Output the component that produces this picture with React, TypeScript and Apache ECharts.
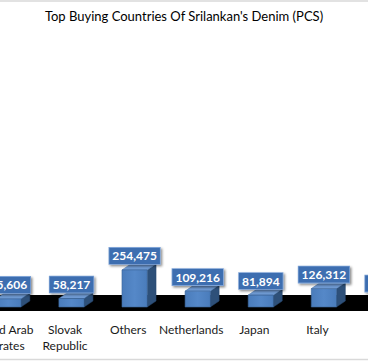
import React, { useEffect, useRef } from "react";
import * as echarts from "echarts";

const titleText = "Top Buying Countries Of Srilankan's Denim (PCS)";
const categories = [
  "United Arab Emirates",
  "Slovak Republic",
  "Others",
  "Netherlands",
  "Japan",
  "Italy",
  "UK",
];
const values = [55606, 58217, 254475, 109216, 81894, 126312, 64500];

const fmt = (v: number) => v.toLocaleString("en-US");
const wrapName = (v: string) => {
  if (v.length > 12) {
    const i = v.lastIndexOf(" ");
    return v.slice(0, i) + "\n" + v.slice(i + 1);
  }
  return v;
};

const OFFSET_X = 40;
const INNER_W = 458;

export default function App() {
  const ref = useRef<HTMLDivElement>(null);
  useEffect(() => {
    document.body.style.margin = "0";
    const chart = echarts.init(ref.current!, null, { renderer: "svg" });
    const data = categories.map((c, i) => [i, values[i]]);
    chart.setOption({
      animation: false,
      title: {
        text: titleText,
        left: "center",
        top: 7,
        textStyle: {
          fontFamily: "Lato",
          fontSize: 13,
          fontWeight: "normal",
          color: "#000",
        },
        show: false,
      },
      grid: { left: 10.35, right: 5.95, top: 205, bottom: 56 },
      xAxis: {
        type: "category",
        data: categories,
        offset: 6,
        axisLine: { lineStyle: { color: "#d9d9d9", width: 1 } },
        axisTick: { show: false },
        axisLabel: {
          interval: 0,
          margin: 8,
          fontFamily: "Lato",
          fontSize: 12,
          lineHeight: 16,
          color: "#1a1a1a",
          formatter: wrapName,
        },
      },
      yAxis: { type: "value", min: 0, max: 700000, show: false },
      series: [
        {
          type: "custom",
          z: 1,
          data,
          renderItem: (params: any, api: any) => {
            const p = api.coord([api.value(0), 0]);
            const bw = api.size([1, 0])[0];
            return {
              type: "rect",
              shape: { x: p[0] - bw / 2 - 0.5, y: p[1] - 12, width: bw + 1, height: 16 },
              style: { fill: "#000" },
            };
          },
        },
        {
          type: "custom",
          z: 2,
          data,
          renderItem: (params: any, api: any) => {
            const p0 = api.coord([api.value(0), 0]);
            const p1 = api.coord([api.value(0), api.value(1)]);
            const bw = api.size([1, 0])[0];
            const cx = p0[0] + bw * 0.103;
            const hw = bw * 0.2;
            const dx = bw * 0.14;
            const dy = 6;
            const y0 = p0[1];
            const yt = p1[1];
            return {
              type: "group",
              children: [
                {
                  type: "polygon",
                  shape: {
                    points: [
                      [cx + hw, y0],
                      [cx + hw, yt],
                      [cx + hw + dx, yt - dy],
                      [cx + hw + dx, y0 - dy],
                    ],
                  },
                  style: { fill: "#2E5079", stroke: "#27456a", lineWidth: 0.5 },
                },
                {
                  type: "polygon",
                  shape: {
                    points: [
                      [cx - hw, yt],
                      [cx + hw, yt],
                      [cx + hw + dx, yt - dy],
                      [cx - hw + dx, yt - dy],
                    ],
                  },
                  style: { fill: "#6F9AD3", stroke: "#4a74a8", lineWidth: 0.5 },
                },
                {
                  type: "rect",
                  shape: { x: cx - hw, y: yt, width: 2 * hw, height: y0 - yt },
                  style: {
                    fill: new echarts.graphic.LinearGradient(0, 0, 1, 0, [
                      { offset: 0, color: "#4A7CBB" },
                      { offset: 0.5, color: "#5588C8" },
                      { offset: 1, color: "#4A7CBB" },
                    ]),
                    stroke: "#3A6498",
                    lineWidth: 0.6,
                  },
                },
                {
                  type: "text",
                  x: cx,
                  y: yt - dy,
                  style: {
                    text: fmt(api.value(1)),
                    fill: "#fff",
                    fontFamily: "Lato",
                    fontWeight: "bold",
                    fontSize: 12,
                    align: "center",
                    verticalAlign: "bottom",
                    backgroundColor: "#3C6EB0",
                    padding: [2, 3, 2, 3],
                    borderColor: "#7EA3D6",
                    borderWidth: 0.8,
                    shadowColor: "rgba(0,0,0,0.45)",
                    shadowOffsetX: 1.5,
                    shadowOffsetY: 1.5,
                    shadowBlur: 2,
                  },
                },
              ],
            };
          },
        },
      ],
      graphic: [
        {
          type: "text",
          x: OFFSET_X + 184,
          y: 9,
          style: {
            text: titleText,
            fontFamily: "Lato",
            fontSize: 13,
            fill: "#000",
            align: "center",
            verticalAlign: "top",
          },
        },
        { type: "line", shape: { x1: 0, y1: 1, x2: INNER_W, y2: 1 }, style: { stroke: "#d9d9d9", lineWidth: 1.5 } },
        { type: "line", shape: { x1: 0, y1: 359.5, x2: INNER_W, y2: 359.5 }, style: { stroke: "#d9d9d9", lineWidth: 1.5 } },
      ],
    });
    return () => chart.dispose();
  }, []);
  return (
    <div style={{ width: 368, height: 363, overflow: "hidden", position: "relative" }}>
      <div
        ref={ref}
        style={{ position: "absolute", left: -OFFSET_X, top: 0, width: INNER_W, height: 363 }}
      />
    </div>
  );
}
